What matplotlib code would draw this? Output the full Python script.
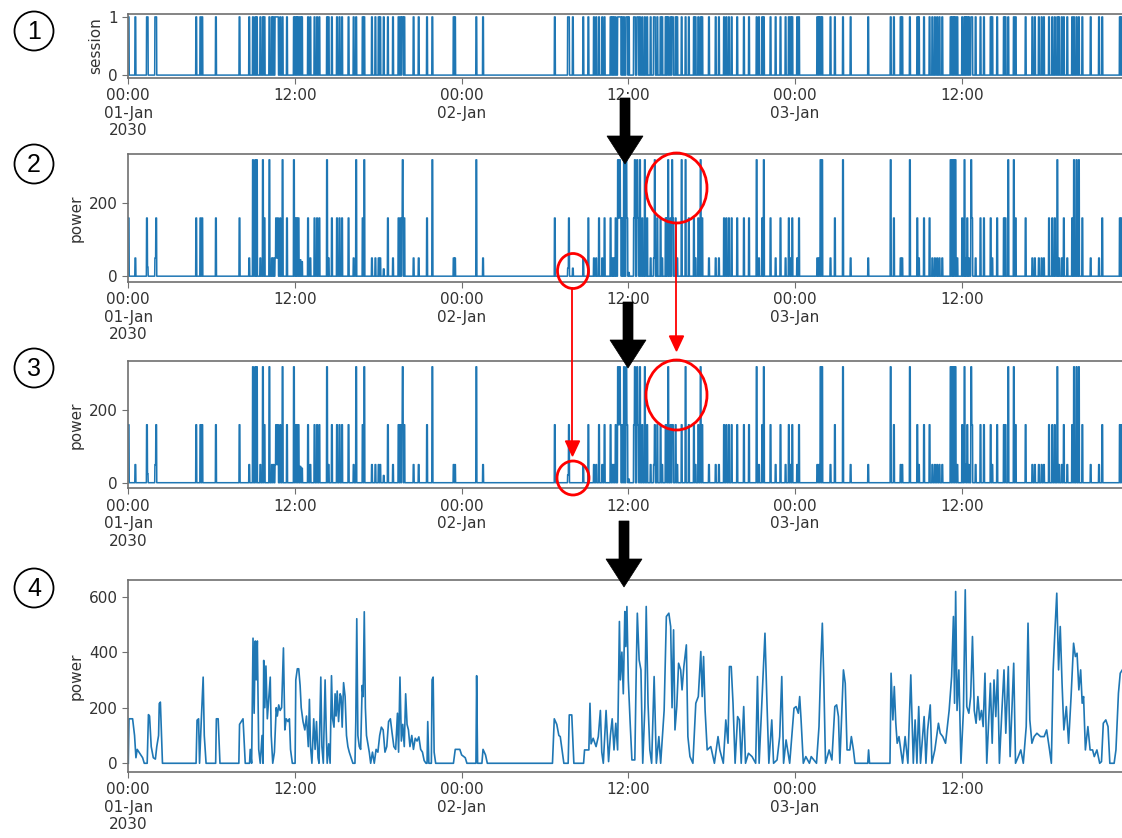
import numpy as np
import matplotlib.pyplot as plt
from matplotlib.patches import Ellipse, Circle, Polygon

# spike start times in hours after 2030-01-01 00:00 (panels 2 and 3)
tall_hours = [8.95, 9.12, 9.24, 9.67, 10.13, 11.09, 11.90, 14.28, 16.39, 16.97, 19.73, 21.86,
              25.03, 35.23, 35.37, 35.66, 35.83, 36.45, 36.62, 36.81, 37.17, 37.89, 38.85,
              39.14, 39.81, 40.10, 41.18, 45.21, 45.74, 49.82, 49.94, 51.43, 54.86, 56.25,
              59.18, 59.30, 59.42, 59.54, 60.19, 60.67, 63.33, 63.74, 66.86, 68.06, 68.25, 68.42]
mid_hours = [0.00, 1.32, 1.99, 4.87, 5.16, 5.30, 6.29, 7.99, 9.79, 10.61, 10.75, 10.92, 11.40,
             12.00, 12.12, 12.24, 12.91, 13.39, 13.56, 13.73, 14.64, 15.00, 15.19, 15.36, 15.84,
             16.85, 18.67, 19.44, 19.56, 19.68, 19.85, 21.48, 30.69, 31.70, 33.10, 33.87, 34.27,
             34.70, 35.06, 35.30, 35.42, 35.54, 35.90, 36.38, 36.69, 36.98, 37.34, 38.06, 38.30,
             38.66, 38.75, 39.02, 39.19, 39.38, 40.34, 40.70, 41.02, 41.30, 42.86, 43.03, 43.22,
             43.41, 43.82, 44.30, 44.66, 45.62, 46.22, 46.94, 47.54, 47.78, 48.26, 50.85, 55.10,
             56.78, 57.26, 57.67, 60.02, 60.38, 60.74, 61.34, 61.58, 62.06, 62.54, 63.02, 63.14,
             63.86, 64.58, 66.26, 66.50, 66.69, 67.34, 67.94, 68.66, 70.10, 71.37, 71.49]
low_hours = [0.48, 1.92, 8.69, 9.48, 10.32, 10.44, 10.56, 10.68, 13.08, 14.40, 16.20, 17.52,
             17.76, 18.00, 18.12, 19.03, 20.52, 20.88, 23.40, 23.50, 25.51, 32.73, 33.50, 33.67,
             34.10, 34.82, 34.94, 37.58, 37.82, 38.42, 39.50, 40.82, 41.78, 42.26, 42.50, 45.38,
             46.58, 47.30, 47.66, 48.14, 49.58, 49.70, 50.54, 51.98, 53.25, 55.58, 55.70, 56.90,
             57.86, 58.05, 58.22, 58.39, 58.58, 59.66, 60.26, 60.50, 60.98, 62.18, 65.06, 65.25,
             65.54, 65.73, 65.90, 66.98, 67.18, 67.58, 69.26, 69.86]
small_spikes = [(1.37, 25), (12.36, 45), (12.48, 40), (18.36, 20), (31.63, 22), (31.99, 22), (36.02, 10)]

# what changed from panel 2 to panel 3 (the red circles)
tall_to_mid_3 = [37.89, 39.14, 39.81]
dropped_small_3 = [31.99]

# panel 4, aggregated power
p4_hours = [0.00, 0.05, 0.31, 0.45, 0.55, 0.64, 0.77, 0.90, 1.03, 1.15, 1.36, 1.45, 1.53, 1.65,
            1.80, 1.95, 2.05, 2.18, 2.23, 2.31, 2.39, 2.46, 4.88, 4.95, 5.06, 5.13, 5.26, 5.39,
            5.47, 5.60, 6.29, 6.34, 6.47, 6.60, 7.96, 8.01, 8.26, 8.42, 8.73, 8.78, 8.88, 8.98,
            9.06, 9.14, 9.21, 9.29, 9.39, 9.50, 9.63, 9.70, 9.75, 9.83, 9.91, 10.01, 10.14, 10.22,
            10.29, 10.40, 10.52, 10.65, 10.73, 10.83, 10.93, 11.04, 11.17, 11.27, 11.37, 11.50,
            11.60, 11.68, 11.81, 12.01, 12.06, 12.17, 12.27, 12.37, 12.45, 12.58, 12.71, 12.83,
            12.96, 13.04, 13.12, 13.22, 13.35, 13.45, 13.55, 13.66, 13.73, 13.86, 13.94, 14.04,
            14.17, 14.25, 14.32, 14.43, 14.53, 14.63, 14.71, 14.81, 14.89, 14.96, 15.04, 15.14,
            15.25, 15.32, 15.40, 15.50, 15.61, 15.71, 15.81, 15.91, 16.04, 16.17, 16.32, 16.38,
            16.45, 16.53, 16.63, 16.73, 16.84, 16.91, 16.99, 17.07, 17.15, 17.25, 17.35, 17.45,
            17.58, 17.71, 17.84, 17.97, 18.10, 18.22, 18.35, 18.48, 18.61, 18.74, 18.87, 18.99,
            19.12, 19.25, 19.38, 19.46, 19.56, 19.66, 19.76, 19.87, 19.97, 20.07, 20.17, 20.28,
            20.41, 20.53, 20.66, 20.79, 20.92, 21.05, 21.18, 21.30, 21.43, 21.51, 21.56, 21.64,
            21.82, 21.87, 21.95, 22.02, 22.13, 23.41, 23.54, 23.87, 24.00, 24.26, 24.38, 25.03,
            25.08, 25.15, 25.46, 25.54, 25.72, 25.85, 30.54, 30.67, 30.85, 31.00, 31.10, 31.36,
            31.67, 31.75, 31.93, 32.08, 32.78, 32.85, 33.16, 33.24, 33.32, 33.47, 33.68, 33.84,
            33.99, 34.09, 34.20, 34.40, 34.58, 34.71, 34.84, 34.97, 35.10, 35.23, 35.36, 35.43,
            35.54, 35.64, 35.75, 35.82, 35.90, 36.00, 36.13, 36.26, 36.47, 36.57, 36.65, 36.78,
            36.91, 37.04, 37.19, 37.29, 37.42, 37.55, 37.68, 37.86, 38.02, 38.20, 38.33, 38.58,
            38.74, 38.92, 39.05, 39.15, 39.26, 39.36, 39.49, 39.62, 39.77, 39.87, 40.00, 40.18,
            40.29, 40.44, 40.65, 40.86, 41.04, 41.22, 41.32, 41.42, 41.53, 41.68, 41.94, 42.20,
            42.46, 42.59, 42.84, 43.02, 43.18, 43.28, 43.41, 43.54, 43.69, 43.87, 44.00, 44.13,
            44.31, 44.44, 44.65, 44.91, 45.17, 45.30, 45.42, 45.61, 45.71, 45.84, 45.97, 46.12,
            46.33, 46.46, 46.71, 46.90, 47.05, 47.18, 47.36, 47.62, 47.93, 48.08, 48.24, 48.34,
            48.44, 48.60, 48.78, 49.04, 49.17, 49.55, 49.73, 49.86, 49.97, 50.07, 50.20, 50.46,
            50.66, 50.87, 51.00, 51.13, 51.23, 51.49, 51.62, 51.75, 51.95, 52.06, 52.21, 52.32,
            53.24, 53.30, 53.37, 54.84, 54.92, 55.05, 55.15, 55.26, 55.36, 55.49, 55.75, 55.93,
            56.13, 56.34, 56.52, 56.65, 56.78, 56.91, 57.04, 57.30, 57.43, 57.55, 57.74, 57.86,
            58.07, 58.33, 58.46, 58.64, 58.84, 59.10, 59.28, 59.41, 59.49, 59.57, 59.67, 59.80,
            59.95, 60.13, 60.26, 60.37, 60.52, 60.65, 60.78, 60.91, 61.04, 61.17, 61.30, 61.43,
            61.55, 61.68, 61.81, 62.07, 62.20, 62.33, 62.46, 62.59, 62.72, 62.90, 63.05, 63.18,
            63.36, 63.49, 63.75, 63.88, 64.08, 64.26, 64.44, 64.65, 64.78, 64.91, 65.06, 65.22,
            65.42, 65.68, 65.94, 66.12, 66.33, 66.46, 66.59, 66.72, 66.85, 66.98, 67.10, 67.23,
            67.36, 67.54, 67.70, 67.88, 68.06, 68.19, 68.31, 68.44, 68.57, 68.68, 68.78, 68.91,
            69.09, 69.25, 69.43, 69.55, 69.74, 69.94, 70.07, 70.20, 70.38, 70.54, 70.67, 70.98,
            71.11, 71.29, 71.42, 71.57]
p4_power = [0, 160, 160, 100, 20, 50, 40, 30, 20, 0, 0, 175, 170, 60,
            20, 15, 60, 100, 215, 220, 100, 0, 0, 155, 160, 0, 160, 310,
            100, 0, 0, 160, 160, 0, 0, 140, 160, 0, 0, 50, 0, 450,
            180, 440, 300, 440, 50, 0, 100, 0, 370, 200, 350, 160, 250, 310,
            100, 0, 40, 200, 170, 210, 190, 200, 415, 120, 160, 150,
            160, 50, 0, 0, 300, 340, 340, 280, 200, 150, 120, 170,
            60, 230, 60, 0, 160, 50, 150, 20, 0, 310, 60, 0,
            300, 120, 0, 70, 0, 315, 160, 130, 250, 170, 260, 150,
            250, 240, 130, 290, 240, 100, 60, 40, 20, 0, 0, 150,
            520, 100, 60, 50, 280, 240, 545, 200, 100, 70, 40, 0,
            40, 0, 50, 40, 100, 130, 120, 40, 60, 150, 160, 110,
            60, 50, 180, 40, 310, 80, 140, 60, 250, 140, 120, 60,
            100, 50, 90, 80, 95, 50, 40, 10, 0, 0, 150, 0,
            0, 300, 310, 40, 0, 0, 50, 50, 30, 20, 0, 0,
            315, 0, 0, 50, 30, 0, 0, 160, 140, 100, 96, 0,
            0, 174, 174, 0, 0, 48, 48, 216, 70, 90, 60, 96,
            190, 40, 0, 190, 6, 100, 160, 48, 144, 48, 510, 300,
            400, 250, 546, 420, 564, 300, 150, 12, 12, 330, 540, 372,
            336, 0, 200, 564, 216, 48, 0, 312, 0, 96, 0, 190,
            528, 540, 492, 200, 480, 120, 204, 360, 336, 264, 348, 426,
            96, 24, 0, 216, 240, 402, 240, 384, 190, 48, 60, 0,
            96, 48, 0, 156, 72, 348, 348, 216, 0, 168, 156, 0,
            204, 0, 36, 24, 0, 312, 0, 210, 312, 468, 240, 0,
            156, 0, 12, 96, 312, 0, 84, 0, 198, 204, 180, 240,
            156, 0, 24, 0, 24, 0, 132, 360, 504, 312, 0, 48,
            12, 204, 210, 168, 0, 336, 288, 48, 48, 96, 48, 0,
            0, 48, 0, 0, 324, 156, 276, 144, 72, 96, 0, 96,
            0, 318, 0, 156, 0, 204, 0, 168, 0, 120, 210, 0,
            48, 144, 108, 96, 72, 190, 312, 528, 216, 618, 190, 336,
            0, 190, 624, 204, 180, 240, 456, 190, 144, 240, 156, 190,
            132, 324, 0, 288, 72, 300, 168, 336, 0, 190, 336, 108,
            348, 24, 360, 0, 24, 48, 0, 132, 504, 156, 72, 96,
            108, 96, 96, 120, 48, 0, 336, 480, 612, 336, 492, 288,
            120, 204, 72, 240, 432, 384, 396, 264, 336, 216, 240, 48,
            132, 48, 48, 24, 48, 0, 6, 144, 156, 132, 0, 0,
            48, 252, 324, 336]

tick_hours = [0, 12, 24, 36, 48, 60]
tick_labels = ['00:00\n01-Jan\n2030', '12:00', '00:00\n02-Jan', '12:00', '00:00\n03-Jan', '12:00']

t = np.arange(0, 72 * 60 + 1) / 60.0


def spike_series(events):
    p = np.zeros(len(t))
    for h, lvl in events:
        i = int(round(h * 60))
        p[i:i + 4] = np.maximum(p[i:i + 4], lvl)
    return p


ev2 = [(h, 320) for h in tall_hours] + [(h, 160) for h in mid_hours] \
    + [(h, 50) for h in low_hours] + small_spikes
ev3 = [(h, 160 if h in tall_to_mid_3 else 320) for h in tall_hours] \
    + [(h, 160) for h in mid_hours] + [(h, 50) for h in low_hours] \
    + [(h, v) for h, v in small_spikes if h not in dropped_small_3]

power2 = spike_series(ev2)
power3 = spike_series(ev3)
session = (power2 > 0).astype(float)

W, H = 1122, 838
fig = plt.figure(figsize=(W / 100, H / 100), dpi=100)
line_c = '#1f77b4'
spine_c = '#707070'


def box(top, bottom):
    return [128.3 / W, 1 - bottom / H, 1000 / W, (bottom - top) / H]


def style(ax, yticks, ylabel, ylim):
    ax.set_xlim(0, 72)
    ax.set_ylim(*ylim)
    ax.set_yticks(yticks)
    ax.set_xticks(tick_hours, tick_labels)
    ax.set_ylabel(ylabel, fontsize=11, color='#333333')
    ax.tick_params(labelsize=11, colors=spine_c, labelcolor='#333333', length=4)
    for s in ax.spines.values():
        s.set_color(spine_c)
        s.set_linewidth(1.2)
    ax.spines['right'].set_visible(False)


ax1 = fig.add_axes(box(14, 78))
ax1.plot(t, session, color=line_c, lw=1.1)
style(ax1, [0, 1], 'session', (-0.05, 1.05))

ax2 = fig.add_axes(box(154, 282))
ax2.plot(t, power2, color=line_c, lw=1.1)
style(ax2, [0, 200], 'power', (-16, 336))

ax3 = fig.add_axes(box(361, 488.5))
ax3.plot(t, power3, color=line_c, lw=1.1)
style(ax3, [0, 200], 'power', (-16, 336))

ax4 = fig.add_axes(box(580, 772))
ax4.plot(p4_hours, p4_power, color=line_c, lw=1.2)
style(ax4, [0, 200, 400, 600], 'power', (-31.4, 659.4))

# annotation layer in pixel units
ov = fig.add_axes([0, 0, 1, 1], zorder=10)
ov.set_xlim(0, W)
ov.set_ylim(H, 0)
ov.axis('off')
ov.patch.set_alpha(0)

for n, cy in zip([1, 2, 3, 4], [31, 164, 368, 588]):
    ov.add_patch(Circle((34, cy), 19.5, fill=False, ec='black', lw=1.3))
    ov.text(34, cy + 1, str(n), ha='center', va='center', fontsize=18, family='Liberation Sans')


def black_arrow(x, y0, y1):
    hl, hw, sw = 28, 18, 5
    pts = [(x - sw, y0), (x + sw, y0), (x + sw, y1 - hl), (x + hw, y1 - hl),
           (x, y1), (x - hw, y1 - hl), (x - sw, y1 - hl)]
    ov.add_patch(Polygon(pts, closed=True, fc='black', ec='black', lw=0.5))


black_arrow(625, 98, 164)
black_arrow(628, 302, 368)
black_arrow(624, 521, 587)

for cx, cy, w, h in [(676.5, 188, 61, 70), (573, 271, 31, 35),
                     (676.5, 395, 61, 70), (573, 478, 32, 34)]:
    ov.add_patch(Ellipse((cx, cy), w, h, fill=False, ec='red', lw=2))


def red_arrow(x, y0, y1):
    ov.plot([x, x], [y0, y1 - 12], color='red', lw=1.3)
    ov.add_patch(Polygon([(x - 7, y1 - 15), (x + 7, y1 - 15), (x, y1)], closed=True,
                         fc='red', ec='red'))


red_arrow(676.5, 223, 351)
red_arrow(572.5, 288, 456)

fig.savefig('out.png', dpi=100)
